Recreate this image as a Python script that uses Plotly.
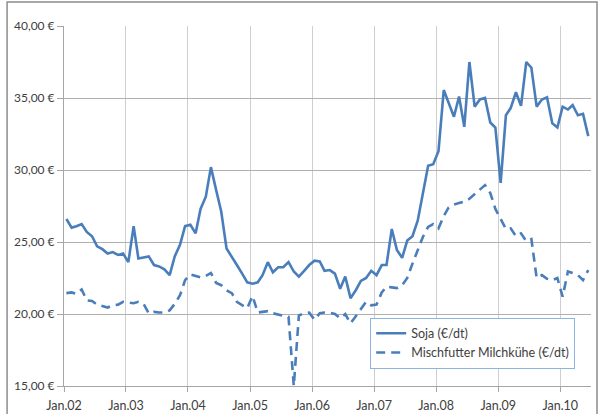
import datetime as dt
import plotly.graph_objects as go

# ---- data (monthly, Jan 2002 .. Jun 2010) ----
soja = [
    26.6, 26.0, 26.1, 26.25, 25.7, 25.4, 24.7, 24.5, 24.2, 24.3, 24.1, 24.2,
    23.6, 26.1, 23.85, 23.95, 24.0, 23.4, 23.3, 23.1, 22.7, 24.0, 24.8, 26.1,
    26.2, 25.6, 27.3, 28.15, 30.2, 28.6, 27.1, 24.55, 24.0, 23.4, 22.8, 22.2,
    22.1, 22.2, 22.7, 23.6, 22.9, 23.25, 23.25, 23.6, 22.95, 22.6, 23.0, 23.4,
    23.7, 23.65, 23.0, 23.05, 22.8, 21.75, 22.6, 21.1, 21.65, 22.3, 22.5, 23.0,
    22.7, 23.4, 23.4, 25.9, 24.45, 23.9, 25.1, 25.4, 26.5, 28.3, 30.3, 30.4,
    31.3, 35.55, 34.6, 33.7, 35.1, 33.0, 37.5, 34.4, 34.9, 35.0, 33.3, 32.95,
    29.1, 33.8, 34.3, 35.4, 34.45, 37.5, 37.1, 34.4, 34.9, 35.05, 33.25, 32.95,
    34.4, 34.2, 34.5, 33.8, 33.9, 32.35,
]
mischfutter = [
    21.45, 21.5, 21.4, 21.7, 20.95, 20.9, 20.65, 20.55, 20.45, 20.6, 20.65, 20.85,
    20.8, 20.75, 20.85, 20.7, 20.05, 20.15, 20.1, 20.1, 20.25, 20.7, 21.3, 22.35,
    22.75, 22.65, 22.55, 22.65, 22.85, 22.15, 22.0, 21.65, 21.45, 20.85, 20.65, 20.4,
    21.25, 20.1, 20.15, 20.2, 20.05, 19.95, 19.85, 19.8, 15.0, 19.9, 20.05, 20.1,
    19.6, 20.05, 20.1, 20.1, 20.0, 19.7, 20.0, 19.35, 19.85, 20.3, 20.85, 20.6,
    20.65, 21.5, 21.9, 21.85, 21.8, 22.0, 22.5, 23.5, 24.5, 25.35, 26.05, 26.25,
    25.95, 26.8, 27.4, 27.6, 27.7, 27.8, 28.0, 28.3, 28.65, 28.95, 28.4, 27.3,
    26.6, 25.9, 25.95, 25.4, 25.6, 25.05, 25.2, 22.5, 22.7, 22.45, 22.35, 22.5,
    21.2, 22.95, 22.85, 22.7, 22.35, 23.05,
]
series_names = ["Soja (€/dt)", "Mischfutter Milchkühe (€/dt)"]
x_tick_labels = ["Jan.02", "Jan.03", "Jan.04", "Jan.05", "Jan.06",
                 "Jan.07", "Jan.08", "Jan.09", "Jan.10"]
y_tick_values = [15, 20, 25, 30, 35, 40]
y_tick_labels = ["15,00 €", "20,00 €", "25,00 €", "30,00 €", "35,00 €", "40,00 €"]

dates = []
for i in range(len(soja)):
    y, m = 2002 + i // 12, i % 12 + 1
    dates.append(dt.date(y, m, 15))
x_tick_vals = [dt.date(2002 + k, 1, 1) for k in range(len(x_tick_labels))]

BLUE = "#4a7ebb"
FONT = "Lato, Carlito, 'Open Sans', sans-serif"

fig = go.Figure()
fig.add_trace(go.Scatter(x=dates, y=soja, mode="lines", name=series_names[0],
                         line=dict(color=BLUE, width=2.6)))
fig.add_trace(go.Scatter(x=dates, y=mischfutter, mode="lines", name=series_names[1],
                         line=dict(color=BLUE, width=2.6, dash="9px,6px")))

fig.update_layout(
    width=598, height=414,
    margin=dict(l=64, r=7, t=26, b=28),
    paper_bgcolor="white", plot_bgcolor="white",
    font=dict(family=FONT, size=12, color="#404040"),
    showlegend=True,
    legend=dict(x=0.581, y=0.19, xanchor="left", yanchor="top",
                bordercolor="#8db3e2", borderwidth=1, bgcolor="white",
                font=dict(size=12.5, color="#404040"),
                tracegroupgap=0, itemwidth=30),
    xaxis=dict(range=[dt.date(2002, 1, 1), dt.date(2010, 7, 1)],
               tickvals=x_tick_vals, ticktext=x_tick_labels, automargin=False,
               showgrid=True, gridcolor="#cfcfcf", gridwidth=1,
               showline=True, linecolor="#a6a6a6", linewidth=1,
               ticks="outside", ticklen=5, tickcolor="#a6a6a6",
               ticklabelstandoff=3,
               tickfont=dict(size=12.5, color="#404040"), zeroline=False),
    yaxis=dict(range=[15, 40], tickvals=y_tick_values, ticktext=y_tick_labels,
               automargin=False,
               showgrid=True, gridcolor="#b0b0b0", gridwidth=1,
               showline=True, linecolor="#a6a6a6", linewidth=1,
               ticks="outside", ticklen=6, tickcolor="#a6a6a6",
               tickfont=dict(size=12, color="#404040"), zeroline=False),
    shapes=[dict(type="rect", xref="paper", yref="paper",
                 x0=-0.108, x1=1.0114, y0=-0.2, y1=1.0667,
                 line=dict(color="#8c8c8c", width=1.5), layer="below")],
)

fig.write_html("out.html",
               config={"displayModeBar": False},
               post_script="document.body.style.margin='0';document.body.style.overflow='hidden';")
